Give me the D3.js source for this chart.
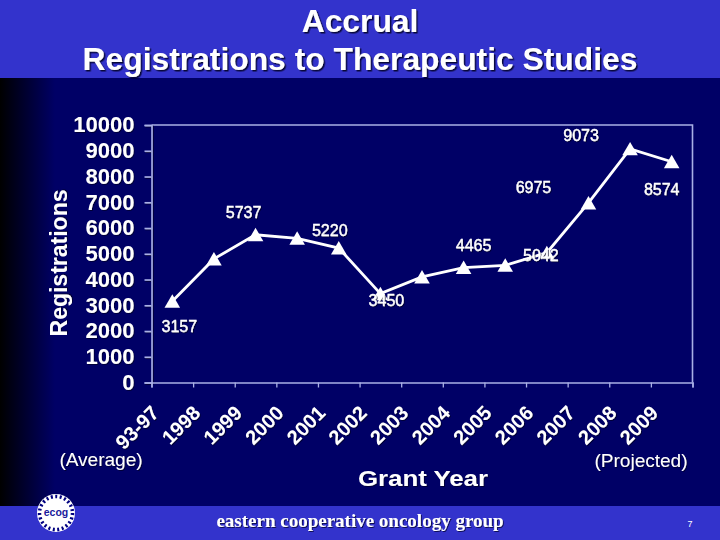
<!DOCTYPE html>
<html><head><meta charset="utf-8">
<script src="https://cdn.jsdelivr.net/npm/d3@7"></script>
<style>
html,body{margin:0;padding:0;background:#000066}
svg{display:block}
text{font-family:"Liberation Sans",Arial,sans-serif;fill:#fff}
</style></head><body>
<svg id="c" width="720" height="540"></svg>
<script>
const categories=["93-97","1998","1999","2000","2001","2002","2003","2004","2005","2006","2007","2008","2009"];
const registrations=[3157,4800,5737,5600,5220,3450,4100,4465,4550,5042,6975,9073,8574];
const pointLabels=["3157",null,"5737",null,"5220","3450",null,"4465",null,"5042","6975","9073","8574"];
const labelDx=[7,0,-12,0,-9,6,0,10,0,-6,-55,-49,-10];
const labelDy=[25,0,-22,0,-18,7,0,-22,0,3,-15,-13,28];
const yTicks=[0,1000,2000,3000,4000,5000,6000,7000,8000,9000,10000];

const svg=d3.select("#c");
const defs=svg.append("defs");
const g=defs.append("linearGradient").attr("id","bg");
g.append("stop").attr("offset",0).attr("stop-color","#000000");
g.append("stop").attr("offset",1).attr("stop-color","#000066");
const mkShadow=(id,d,o)=>defs.append("filter").attr("id",id).attr("x","-20%").attr("y","-20%").attr("width","140%").attr("height","140%")
  .append("feDropShadow").attr("dx",d).attr("dy",d).attr("stdDeviation",0.4).attr("flood-color","#000022").attr("flood-opacity",o);
mkShadow("sh",1.5,0.85);
mkShadow("sm",1,0.7);

svg.append("rect").attr("width",720).attr("height",540).attr("fill","#000066");
svg.append("rect").attr("y",78).attr("width",55).attr("height",430).attr("fill","url(#bg)");
svg.append("rect").attr("width",720).attr("height",78).attr("fill","#3333cc");
svg.append("rect").attr("y",506).attr("width",720).attr("height",34).attr("fill","#3333cc");

const title=svg.append("g").attr("filter","url(#sh)").attr("text-anchor","middle").style("font-weight","bold").style("font-size","31.8px");
title.append("text").attr("x",360).attr("y",32).text("Accrual");
title.append("text").attr("x",360).attr("y",70).text("Registrations to Therapeutic Studies");

const m={l:151.5,r:692.5,t:125,b:382.5};
const x=d3.scaleBand().domain(categories).range([m.l,m.r]);
const y=d3.scaleLinear().domain([0,10000]).range([m.b,m.t]);
const cx=c=>x(c)+x.bandwidth()/2;
const axisCol="#a9b0e6";

svg.append("path").attr("fill","none").attr("stroke",axisCol).attr("stroke-width",1.6)
  .attr("d",`M${x.range()[0]},${y(10000)}H${x.range()[1]}V${y(0)}`);

const ya=svg.append("g").attr("transform",`translate(${m.l},0)`)
  .call(d3.axisLeft(y).tickValues(yTicks).tickFormat(d3.format("d")).tickSize(7).tickPadding(10));
ya.select(".domain").attr("stroke",axisCol).attr("stroke-width",1.6);
ya.selectAll(".tick line").attr("stroke",axisCol).attr("stroke-width",1.6);
ya.selectAll("text").style("font-size","22px").style("font-weight","bold").attr("fill","#fff").attr("dy","0.31em");
ya.attr("filter","url(#sm)");

const xa=svg.append("g").attr("transform",`translate(0,${m.b})`)
  .call(d3.axisBottom(d3.scalePoint().domain(d3.range(14)).range([m.l,m.r])).tickSize(5).tickFormat(""));
xa.select(".domain").attr("stroke",axisCol).attr("stroke-width",1.6);
xa.selectAll(".tick line").attr("stroke",axisCol).attr("stroke-width",1.3);

const xl=svg.append("g").attr("filter","url(#sm)").style("font-size","20px").style("font-weight","bold");
xl.selectAll("text").data(categories).join("text")
  .attr("text-anchor","end")
  .attr("transform",d=>`translate(${cx(d)-25},${m.b+19}) rotate(-45)`)
  .attr("dy","0.9em").text(d=>d);

const line=d3.line().x((d,i)=>cx(categories[i])).y(d=>y(d));
svg.append("path").datum(registrations).attr("fill","none").attr("stroke","#fff").attr("stroke-width",2.8).attr("d",line);
const tri=d3.symbol().type(d3.symbolTriangle).size(105);
svg.selectAll(".pt").data(registrations).join("path").attr("class","pt").attr("fill","#fff")
  .attr("transform",(d,i)=>`translate(${cx(categories[i])},${y(d)+2})`).attr("d",tri());

const lab=svg.append("g").attr("filter","url(#sm)").style("font-size","16px").style("stroke","#fff").style("stroke-width","0.35px").attr("text-anchor","middle");
lab.selectAll("text").data(registrations).join("text")
  .attr("x",(d,i)=>cx(categories[i])+labelDx[i])
  .attr("y",(d,i)=>y(d)+labelDy[i]+5.5)
  .text((d,i)=>pointLabels[i]);

const notes=svg.append("g").attr("filter","url(#sm)").style("font-size","19px");
notes.append("text").attr("x",101).attr("y",466).attr("text-anchor","middle").text("(Average)");
notes.append("text").attr("x",641).attr("y",467).attr("text-anchor","middle").text("(Projected)");

svg.append("text").attr("filter","url(#sm)")
  .attr("transform","rotate(-90 58 263)").attr("x",58).attr("y",272)
  .attr("text-anchor","middle").style("font-size","23px").style("font-weight","bold").text("Registrations");
svg.append("text").attr("x",358).attr("y",486).attr("filter","url(#sm)")
  .attr("textLength",130).attr("lengthAdjust","spacingAndGlyphs")
  .style("font-size","22px").style("font-weight","bold").text("Grant Year");

svg.append("text").attr("x",360).attr("y",527).attr("filter","url(#sm)").attr("text-anchor","middle")
  .style("font-family","'Liberation Serif',serif").style("font-size","19px").style("font-weight","bold").text("eastern cooperative oncology group");
svg.append("text").attr("x",690).attr("y",527).attr("text-anchor","middle").style("font-size","9px").text("7");

const logo=svg.append("g").attr("transform","translate(56,513)");
logo.append("circle").attr("r",19).attr("fill","#fff");
logo.append("circle").attr("r",16.5).attr("fill","none").attr("stroke","#000080").attr("stroke-width",3.5).attr("stroke-dasharray","2 2.5");
logo.append("circle").attr("r",13.5).attr("fill","#fff");
logo.append("text").attr("y",3).attr("text-anchor","middle").style("font-size","10.5px").style("font-weight","bold").style("fill","#1a1a9c").text("ecog");
</script>
</body></html>
